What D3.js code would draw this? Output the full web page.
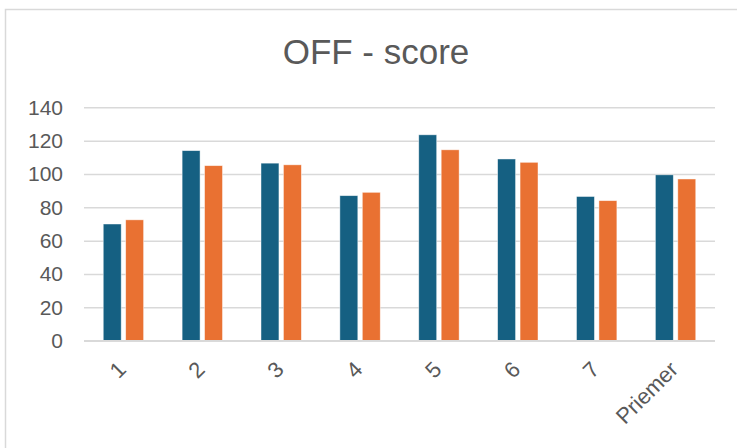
<!DOCTYPE html>
<html>
<head>
<meta charset="utf-8">
<script src="https://cdn.jsdelivr.net/npm/d3@7"></script>
<style>
  body { margin: 0; background: #fff; }
  svg { display: block; font-family: "Liberation Sans", Arial, sans-serif; }
</style>
</head>
<body>
<svg width="737" height="448"></svg>
<script>
// chart data
const categories = ["1", "2", "3", "4", "5", "6", "7", "Priemer"];
const seriesNames = ["A", "B"];
const seriesA = [70, 114, 106.5, 87, 123.5, 109, 86.5, 99.5];
const seriesB = [72.5, 105, 105.5, 89, 114.5, 107, 84, 97];
const yTicks = [0, 20, 40, 60, 80, 100, 120, 140];

const colors = ["#156082", "#e97132"];
const textColor = "#595959";
const gridColor = "#d9d9d9";

const svg = d3.select("svg");

// chart frame
svg.append("rect")
  .attr("x", 5.5)
  .attr("y", 9.5)
  .attr("width", 760)
  .attr("height", 460)
  .attr("fill", "#fff")
  .attr("stroke", gridColor)
  .attr("stroke-width", 1.5);

// title
svg.append("text")
  .attr("x", 376)
  .attr("y", 64)
  .attr("text-anchor", "middle")
  .attr("fill", textColor)
  .style("font-size", "35px")
  .text("OFF - score");

// scales
const x0 = d3.scaleBand()
  .domain(categories)
  .range([84, 715])
  .paddingInner(0.488)
  .paddingOuter(0.244);
const x1 = d3.scaleBand()
  .domain(seriesNames)
  .range([0, x0.bandwidth()])
  .paddingInner(0.2);
const y = d3.scaleLinear()
  .domain([0, 140])
  .range([340.7, 107.3]);

// gridlines + y labels
const yAxis = svg.append("g")
  .attr("transform", "translate(84,0)")
  .call(d3.axisLeft(y).tickValues(yTicks).tickSize(-631).tickPadding(21));
yAxis.select(".domain").remove();
yAxis.selectAll(".tick line")
  .attr("stroke", gridColor)
  .attr("stroke-width", 1.5);
yAxis.selectAll(".tick text")
  .attr("fill", textColor)
  .style("font-size", "21px")
  .style("font-family", "Liberation Sans, Arial, sans-serif");

// bars
const data = categories.map((c, i) => ({ cat: c, values: [seriesA[i], seriesB[i]] }));
const group = svg.selectAll(".grp")
  .data(data)
  .enter()
  .append("g")
  .attr("class", "grp")
  .attr("transform", d => "translate(" + x0(d.cat) + ",0)");
group.selectAll("rect")
  .data(d => d.values.map((v, j) => ({ key: seriesNames[j], v: v, j: j })))
  .enter()
  .append("rect")
  .attr("x", d => x1(d.key))
  .attr("width", x1.bandwidth())
  .attr("y", d => y(d.v))
  .attr("height", d => y(0) - y(d.v))
  .attr("fill", d => colors[d.j])
  .attr("stroke", "#fff")
  .attr("stroke-opacity", 0.6)
  .attr("stroke-width", 0.75);

// x axis line
svg.append("line")
  .attr("x1", 84)
  .attr("x2", 715)
  .attr("y1", y(0))
  .attr("y2", y(0))
  .attr("stroke", gridColor)
  .attr("stroke-width", 1.5);

// x labels, rotated
svg.selectAll(".xlab")
  .data(categories)
  .enter()
  .append("text")
  .attr("class", "xlab")
  .attr("text-anchor", "end")
  .attr("fill", textColor)
  .style("font-size", "22px")
  .attr("transform", d => {
    const cx = x0(d) + x0.bandwidth() / 2 - 7;
    return "translate(" + cx + ",360) rotate(-45)";
  })
  .attr("dy", "0.7em")
  .text(d => d);
</script>
</body>
</html>
